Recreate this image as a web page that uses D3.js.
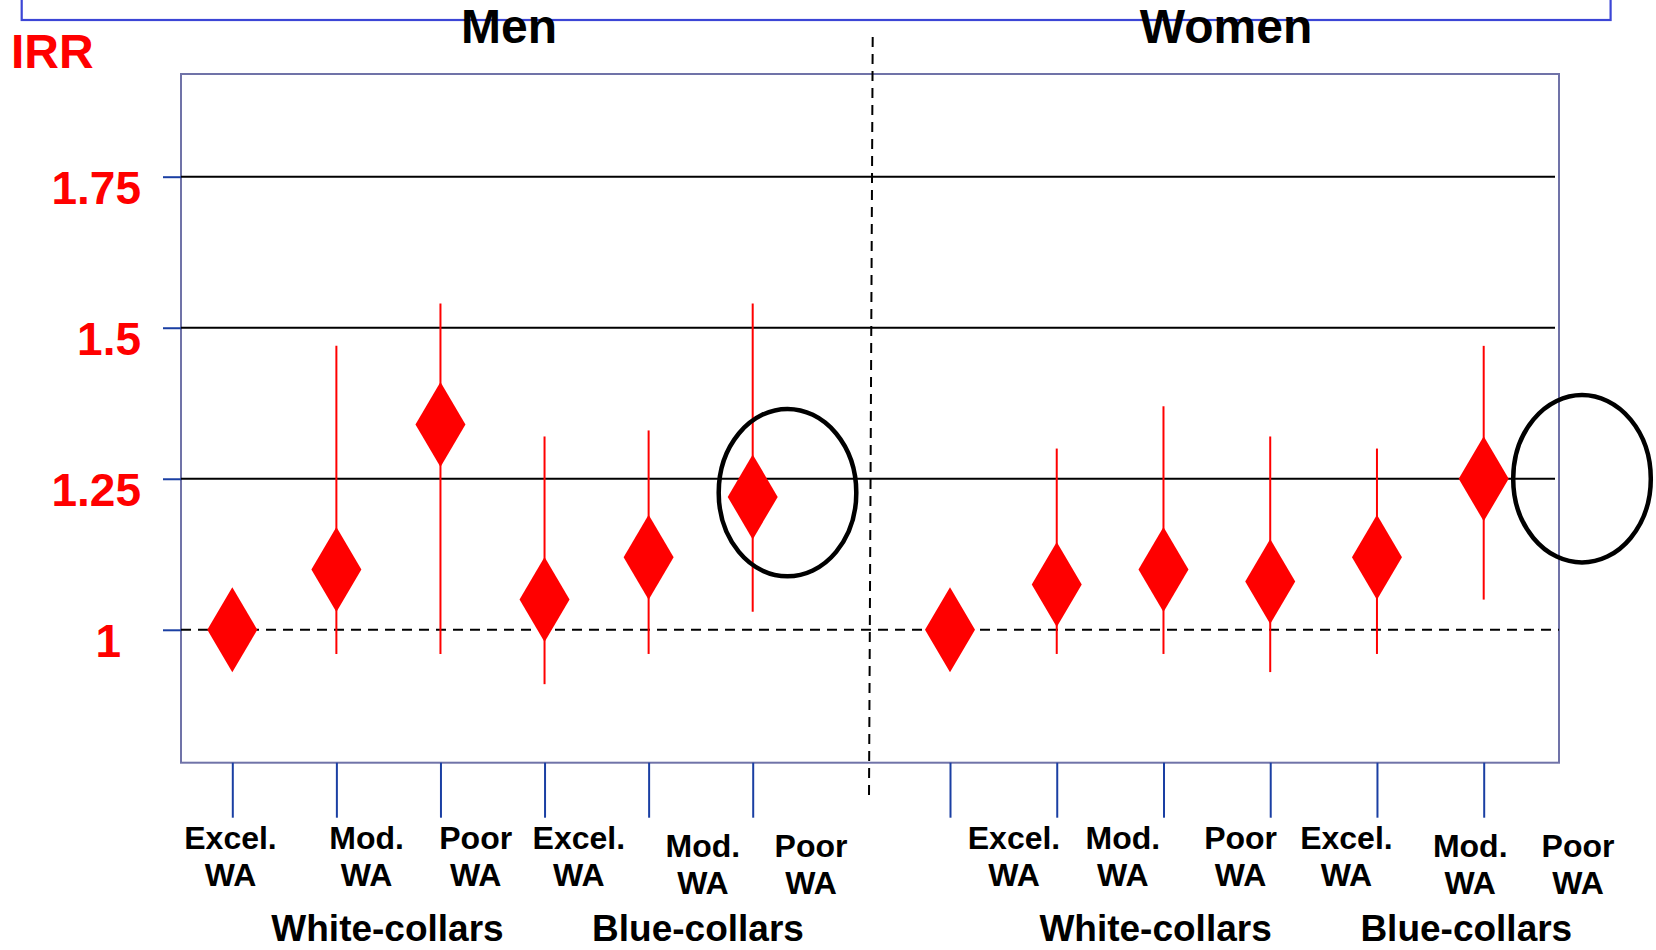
<!DOCTYPE html>
<html>
<head>
<meta charset="utf-8">
<script src="https://cdn.jsdelivr.net/npm/d3@7"></script>
<style>
  html, body { margin: 0; padding: 0; background: #ffffff; }
  svg { display: block; font-family: "Liberation Sans", Arial, Helvetica, sans-serif; font-weight: bold; }
</style>
</head>
<body>
<svg id="chart" width="1656" height="950"></svg>
<script>
// ---- data ----------------------------------------------------------------
const panels = ["Men", "Women"];
const categoryLevel = ["Excel.", "Mod.", "Poor", "Excel.", "Mod.", "Poor"];
const categoryGroup = ["White-collars", "White-collars", "White-collars",
                       "Blue-collars", "Blue-collars", "Blue-collars"];
const groups = ["White-collars", "Blue-collars"];

// incidence rate ratios with 95% confidence limits (reference = 1, no interval)
const menIRR   = [1.00, 1.10, 1.34, 1.05, 1.12, 1.22];
const menLow   = [null, 0.96, 0.96, 0.91, 0.96, 1.03];
const menHigh  = [null, 1.47, 1.54, 1.32, 1.33, 1.54];
const womenIRR  = [1.00, 1.075, 1.10, 1.08, 1.12, 1.25];
const womenLow  = [null, 0.96, 0.96, 0.93, 0.96, 1.05];
const womenHigh = [null, 1.30, 1.37, 1.32, 1.30, 1.47];

// highlighted IRR level (ring annotation) per panel
const ringIRR = [1.227, 1.25];

const yTicks = [1, 1.25, 1.5, 1.75];
const yTickLabels = ["1", "1.25", "1.5", "1.75"];
const yDomain = [0.78, 1.92];

// ---- layout --------------------------------------------------------------
const plot = { left: 181, right: 1559, top: 74, bottom: 762.7 };
const layout = {
  Men:   { tickRange: [232.3, 752.7], labelRange: [230.5, 811], labelNudge: [0, 20, 13, 0, 8, 0],
           groupRange: [387.5, 698], titleX: 509, ringX: 787.5 },
  Women: { tickRange: [950, 1483.7], labelRange: [1014, 1578], labelNudge: [0, -4, 1, -6, 5, 0],
           groupRange: [1155.6, 1466.3], titleX: 1226, ringX: 1582 }
};
const RED = "#ff0000";
const TICK_BLUE = "#1a3fa3";

const series = {
  Men:   { irr: menIRR,   low: menLow,   high: menHigh },
  Women: { irr: womenIRR, low: womenLow, high: womenHigh }
};

const svg = d3.select("#chart");
const y = d3.scaleLinear().domain(yDomain).range([plot.bottom, plot.top]);

// slide frame across the top
svg.append("rect")
  .attr("x", 21.7).attr("y", -20).attr("width", 1588.9).attr("height", 40)
  .attr("fill", "none").attr("stroke", "#3c46d6").attr("stroke-width", 2.2);

// plot frame
svg.append("rect")
  .attr("x", plot.left).attr("y", plot.top)
  .attr("width", plot.right - plot.left).attr("height", plot.bottom - plot.top)
  .attr("fill", "none").attr("stroke", "#7073a8").attr("stroke-width", 2);

// reference lines
svg.append("g").selectAll("line")
  .data(yTicks)
  .join("line")
  .attr("x1", plot.left)
  .attr("x2", d => d === 1 ? plot.right : plot.right - 4)
  .attr("y1", d => y(d)).attr("y2", d => y(d))
  .attr("stroke", "#000")
  .attr("stroke-width", 2)
  .attr("stroke-dasharray", d => d === 1 ? "10,7" : null);

// y axis ticks and labels
const yAxis = svg.append("g")
  .attr("transform", `translate(${plot.left},0)`)
  .call(d3.axisLeft(y).tickValues(yTicks).tickSize(18).tickFormat(""));
yAxis.select(".domain").remove();
yAxis.selectAll(".tick line").attr("stroke", TICK_BLUE).attr("stroke-width", 2);

svg.append("g").selectAll("text")
  .data(yTicks)
  .join("text")
  .attr("x", d => d === 1 ? 121 : 141)
  .attr("y", d => y(d) + 27)
  .attr("text-anchor", "end")
  .attr("fill", RED)
  .attr("font-size", 46)
  .text((d, i) => yTickLabels[i]);

svg.append("text")
  .attr("x", 11).attr("y", 68)
  .attr("fill", RED).attr("font-size", 48)
  .text("IRR");

// divider between the two panels
svg.append("line")
  .attr("x1", 872.7).attr("y1", 37).attr("x2", 869).attr("y2", 797)
  .attr("stroke", "#000").attr("stroke-width", 2).attr("stroke-dasharray", "10,7");

const idx = d3.range(categoryLevel.length);

panels.forEach((panel, p) => {
  const L = layout[panel];
  const s = series[panel];
  const x = d3.scalePoint().domain(idx).range(L.tickRange);
  const xl = d3.scalePoint().domain(idx).range(L.labelRange);
  const xg = d3.scalePoint().domain(groups).range(L.groupRange);
  const labelX = i => xl(i) + L.labelNudge[i];
  const lowered = i => categoryGroup[i] === "Blue-collars" && categoryLevel[i] !== "Excel." ? 8 : 0;

  // panel title
  svg.append("text")
    .attr("x", L.titleX).attr("y", 43.3)
    .attr("text-anchor", "middle").attr("font-size", 48).attr("fill", "#000")
    .text(panel);

  const g = svg.append("g");

  // confidence intervals
  g.selectAll("line.ci")
    .data(idx.filter(i => s.low[i] !== null))
    .join("line")
    .attr("class", "ci")
    .attr("x1", i => x(i)).attr("x2", i => x(i))
    .attr("y1", i => y(s.high[i])).attr("y2", i => y(s.low[i]))
    .attr("stroke", RED).attr("stroke-width", 2);

  // point estimates as diamonds
  g.selectAll("path.est")
    .data(idx)
    .join("path")
    .attr("class", "est")
    .attr("d", i => {
      const cx = x(i), cy = y(s.irr[i]), hw = 25, hh = 42.5;
      return `M${cx},${cy - hh}L${cx + hw},${cy}L${cx},${cy + hh}L${cx - hw},${cy}Z`;
    })
    .attr("fill", RED);

  // highlight ring
  svg.append("ellipse")
    .attr("cx", L.ringX).attr("cy", y(ringIRR[p]))
    .attr("rx", 68.8).attr("ry", 83.7)
    .attr("fill", "none").attr("stroke", "#000").attr("stroke-width", 4.5);

  // category ticks below the frame
  const xAxis = svg.append("g")
    .attr("transform", `translate(0,${plot.bottom})`)
    .call(d3.axisBottom(x).tickSize(55).tickFormat(""));
  xAxis.select(".domain").remove();
  xAxis.selectAll(".tick line").attr("stroke", TICK_BLUE).attr("stroke-width", 2);

  // two-line category labels
  const lab = svg.append("g").selectAll("text")
    .data(idx)
    .join("text")
    .attr("text-anchor", "middle")
    .attr("font-size", 32)
    .attr("fill", "#000");
  lab.append("tspan")
    .attr("x", labelX)
    .attr("y", i => 849 + lowered(i))
    .text(i => categoryLevel[i]);
  lab.append("tspan")
    .attr("x", labelX)
    .attr("y", i => 886 + lowered(i))
    .text("WA");

  // occupational group labels
  svg.append("g").selectAll("text")
    .data(groups)
    .join("text")
    .attr("x", d => xg(d)).attr("y", 941)
    .attr("text-anchor", "middle").attr("font-size", 37).attr("fill", "#000")
    .text(d => d);
});
</script>
</body>
</html>
